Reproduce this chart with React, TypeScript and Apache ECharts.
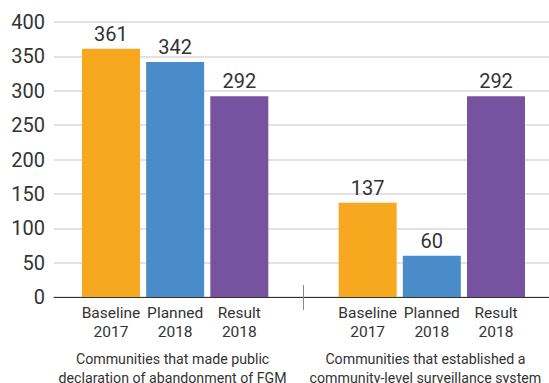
import React, { useEffect, useRef } from "react";
import * as echarts from "echarts";

const barLabels = ["Baseline\n2017", "Planned\n2018", "Result\n2018"];
const groupLabels = [
  "Communities that made public\ndeclaration of abandonment of FGM",
  "Communities that established a\ncommunity-level surveillance system",
];
const group1Values = [361, 342, 292];
const group2Values = [137, 60, 292];
const barColors = ["#F6A81F", "#4A8CC9", "#7652A1"];
const yTicks = [0, 50, 100, 150, 200, 250, 300, 350, 400];

// slot positions on the x value axis: group 1 at 0..2, gap at 3, group 2 at 4..6
const group1Pos = [0, 1, 2];
const group2Pos = [4, 5, 6];
const dividerPos = 3;
const groupCenters = [0.96, 4.9];

const FONT = "Roboto";

export default function App() {
  const ref = useRef<HTMLDivElement>(null);
  useEffect(() => {
    if (!ref.current) return;
    const chart = echarts.init(ref.current, null, { renderer: "svg" });
    const labelByPos: Record<number, string> = {};
    group1Pos.forEach((p, i) => (labelByPos[p] = barLabels[i]));
    group2Pos.forEach((p, i) => (labelByPos[p] = barLabels[i]));
    const groupByPos: Record<number, string> = {};
    groupCenters.forEach((p, i) => (groupByPos[Math.round(p)] = groupLabels[i]));

    const data = [
      ...group1Values.map((v, i) => ({ value: [group1Pos[i], v], itemStyle: { color: barColors[i] } })),
      ...group2Values.map((v, i) => ({ value: [group2Pos[i], v], itemStyle: { color: barColors[i] } })),
    ];

    const xMin = -0.888;
    const xMax = 6.826;

    chart.setOption({
      animation: false,
      textStyle: { fontFamily: FONT },
      grid: { left: 54, right: 0, top: 22, bottom: 86, containLabel: false, outerBoundsMode: "none" },
      xAxis: [
        {
          type: "value",
          min: xMin,
          max: xMax,
          position: "bottom",
          splitLine: { show: false },
          axisLine: { show: true, onZero: false, lineStyle: { color: "#333", width: 1 } },
          axisTick: { show: true, customValues: [dividerPos], length: 13, lineStyle: { color: "#888" } },
          axisLabel: {
            customValues: [...group1Pos, ...group2Pos],
            formatter: (v: number) => labelByPos[Math.round(v)] ?? "",
            fontFamily: FONT,
            fontSize: 15.5,
            lineHeight: 18.5,
            color: "#333",
            margin: 7,
            showMinLabel: true,
            showMaxLabel: true,
          },
        },
        {
          type: "value",
          min: xMin,
          max: xMax,
          position: "bottom",
          offset: 0,
          splitLine: { show: false },
          axisLine: { show: false },
          axisTick: { show: true, inside: true, customValues: [dividerPos], length: 12, lineStyle: { color: "#888" } },
          axisLabel: { show: false },
        },
        {
          type: "value",
          min: xMin,
          max: xMax,
          position: "bottom",
          offset: 44,
          splitLine: { show: false },
          axisLine: { show: false },
          axisTick: { show: false },
          axisLabel: {
            customValues: groupCenters,
            formatter: (v: number) => groupByPos[Math.round(v)] ?? "",
            fontFamily: FONT,
            fontSize: 14.2,
            lineHeight: 19,
            color: "#333",
            margin: 8,
          },
        },
      ],
      yAxis: {
        type: "value",
        min: yTicks[0],
        max: yTicks[yTicks.length - 1],
        interval: 50,
        axisLine: { show: false },
        axisTick: { show: false },
        splitLine: { show: true, lineStyle: { color: "#d9d9d9", width: 1.5 } },
        axisLabel: { fontFamily: FONT, fontSize: 20, color: "#333", margin: 9 },
      },
      series: [
        {
          type: "bar",
          xAxisIndex: 0,
          barWidth: 58,
          data,
          label: {
            show: true,
            position: "top",
            distance: 5,
            fontFamily: FONT,
            fontSize: 20,
            color: "#333",
            formatter: (p: any) => String(p.value[1]),
          },
        },
      ],
    });
    return () => chart.dispose();
  }, []);
  return (
    <div
      ref={ref}
      style={{ position: "fixed", left: 0, top: 0, width: 549, height: 383, background: "#fff" }}
    />
  );
}
